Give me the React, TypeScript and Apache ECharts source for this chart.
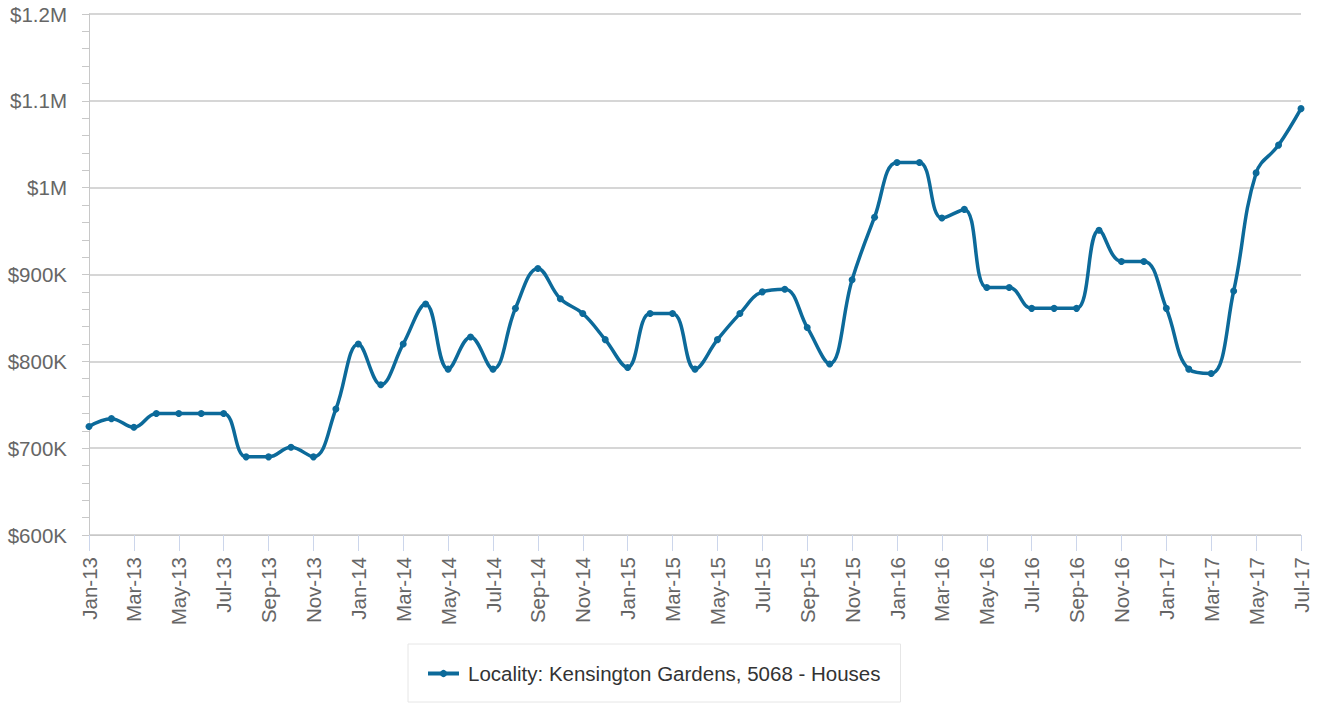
import React, { useEffect, useRef } from "react";
import * as echarts from "echarts";

const months: string[] = [
  "Jan-13", "Feb-13", "Mar-13", "Apr-13", "May-13", "Jun-13", "Jul-13", "Aug-13", "Sep-13", "Oct-13", "Nov-13", "Dec-13",
  "Jan-14", "Feb-14", "Mar-14", "Apr-14", "May-14", "Jun-14", "Jul-14", "Aug-14", "Sep-14", "Oct-14", "Nov-14", "Dec-14",
  "Jan-15", "Feb-15", "Mar-15", "Apr-15", "May-15", "Jun-15", "Jul-15", "Aug-15", "Sep-15", "Oct-15", "Nov-15", "Dec-15",
  "Jan-16", "Feb-16", "Mar-16", "Apr-16", "May-16", "Jun-16", "Jul-16", "Aug-16", "Sep-16", "Oct-16", "Nov-16", "Dec-16",
  "Jan-17", "Feb-17", "Mar-17", "Apr-17", "May-17", "Jun-17", "Jul-17",
];

// median price, in thousands of dollars
const medianPriceK: number[] = [
  725, 734, 724, 740, 740, 740, 740, 690, 690, 701, 690, 745,
  820, 773, 820, 866, 791, 828, 791, 861, 907, 872, 855, 825,
  793, 855, 855, 791, 825, 855, 880, 883, 839, 797, 894, 966,
  1029, 1029, 965, 975, 885, 885, 861, 861, 861, 951, 915, 915,
  861, 791, 786, 881, 1017, 1049, 1091,
];

const seriesName = "Locality: Kensington Gardens, 5068 - Houses";
const yMin = 600;
const yMax = 1200;
const yStep = 100;

const FONT = "'Liberation Sans', Arial, sans-serif";
const LINE_COLOR = "#0c6a9a";

function fmtMoney(v: number): string {
  if (v >= 1000) return "$" + parseFloat((v / 1000).toFixed(2)) + "M";
  return "$" + v + "K";
}

export default function App() {
  const ref = useRef<HTMLDivElement>(null);

  useEffect(() => {
    if (!ref.current) return;
    const chart = echarts.init(ref.current, null, { renderer: "svg" });
    chart.setOption({
      animation: false,
      backgroundColor: "#ffffff",
      textStyle: { fontFamily: FONT },
      grid: { left: 89, right: 17, top: 14, bottom: 168, containLabel: false },
      legend: {
        show: true,
        left: 408,
        top: 644,
        padding: [19, 20, 18, 18],
        itemWidth: 31,
        itemHeight: 9,
        borderColor: "#e6e6e6",
        borderWidth: 1,
        lineStyle: { width: 4 },
        textStyle: {
          fontFamily: FONT,
          fontSize: 20.5,
          color: "#333333",
          lineHeight: 20,
          padding: [0, 0, 0, 4],
        },
        data: [seriesName],
      },
      xAxis: {
        type: "category",
        data: months,
        boundaryGap: false,
        axisLine: { show: true, lineStyle: { color: "#c8c8c8", width: 1 } },
        axisTick: {
          show: true,
          interval: 1,
          length: 16,
          lineStyle: { color: "#ccd6eb", width: 1 },
        },
        axisLabel: {
          interval: 1,
          rotate: 90,
          margin: 22,
          color: "#666666",
          fontFamily: FONT,
          fontSize: 20.5,
        },
        splitLine: { show: false },
      },
      yAxis: {
        type: "value",
        min: yMin,
        max: yMax,
        interval: yStep,
        axisLine: { show: true, lineStyle: { color: "#c8c8c8", width: 1 } },
        axisTick: { show: true, length: 7, lineStyle: { color: "#c8c8c8" } },
        minorTick: { show: true, splitNumber: 5, length: 7, lineStyle: { color: "#c8c8c8" } },
        axisLabel: {
          margin: 22,
          color: "#666666",
          fontFamily: FONT,
          fontSize: 20.5,
          formatter: (v: number) => fmtMoney(v),
        },
        splitLine: { show: true, lineStyle: { color: "#c8c8c8", width: 1.5 } },
      },
      series: [
        {
          name: seriesName,
          type: "line",
          data: medianPriceK,
          smooth: 0.4,
          symbol: "circle",
          symbolSize: 7,
          showSymbol: true,
          lineStyle: { color: LINE_COLOR, width: 3.5 },
          itemStyle: { color: LINE_COLOR },
        },
      ],
    });
    return () => chart.dispose();
  }, []);

  return (
    <div
      ref={ref}
      style={{ position: "fixed", left: 0, top: 0, width: 1318, height: 703, background: "#fff" }}
    />
  );
}
